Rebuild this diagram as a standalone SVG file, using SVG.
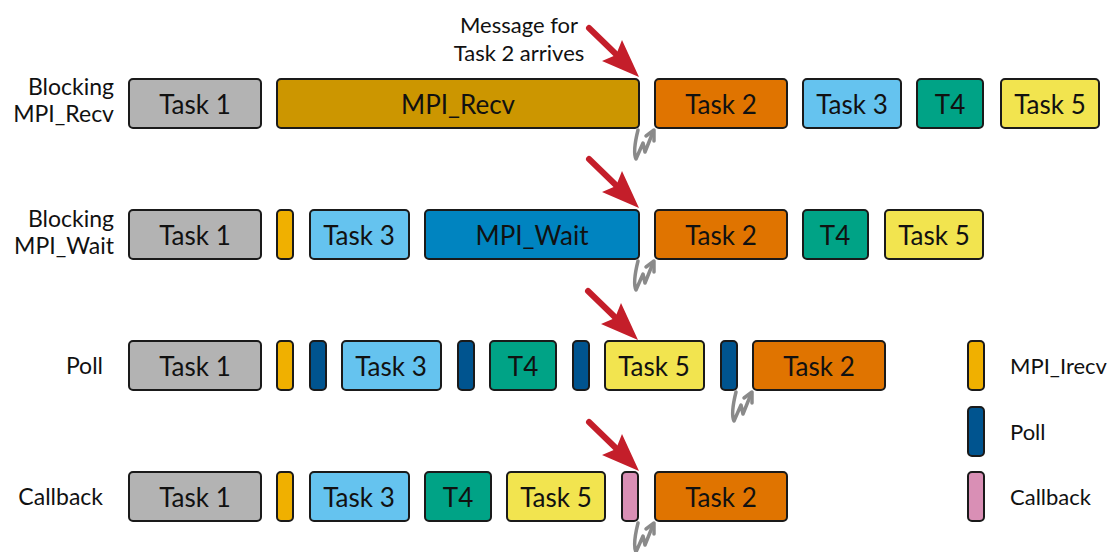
<svg xmlns="http://www.w3.org/2000/svg" width="1115" height="552" viewBox="0 0 1115 552">
<style>
.b{stroke:#1a1a1a;stroke-width:2}
.t{font-family:Lato,"Open Sans","Liberation Sans",sans-serif;font-size:26px;fill:#111;text-anchor:middle;dominant-baseline:central}
.l{font-family:Lato,"Open Sans","Liberation Sans",sans-serif;font-size:23px;fill:#111;text-anchor:end}
.g{font-family:Lato,"Open Sans","Liberation Sans",sans-serif;font-size:22px;fill:#111}
.gray{fill:#b3b3b3}.recv{fill:#cc9600}.t2{fill:#e07400}.t3{fill:#65c3ef}.t4{fill:#00a386}.t5{fill:#f2e44f}.wait{fill:#0084c0}.irecv{fill:#f0b000}.poll{fill:#00548f}.cb{fill:#d98fb5}
.red{fill:#c41e2a}
.sq{fill:none;stroke:#8a8a8a;stroke-width:3.5;stroke-linejoin:round;stroke-linecap:round}
</style>
<defs>
<g id="redarrow">
<line x1="589" y1="28" x2="622" y2="60" stroke="#c41e2a" stroke-width="6" stroke-linecap="round"/>
<polygon class="red" points="639,77 602,61 616,55 622,40"/>
</g>
<g id="squig">
<path class="sq" d="M638,130 C635,142 633,153 636,159 L643,143 L645,152 L653,132"/>
<path class="sq" d="M646,136 L654,130 L654,141"/>
</g>
</defs>

<g id="row-labels">
<text class="l" x="114" y="95">Blocking</text>
<text class="l" x="114" y="122">MPI_Recv</text>
<text class="l" x="114" y="227">Blocking</text>
<text class="l" x="114" y="254">MPI_Wait</text>
<text class="l" x="103" y="374">Poll</text>
<text class="l" x="103" y="505">Callback</text>
</g>

<g id="message-label">
<text class="g" x="519" y="33" text-anchor="middle" font-size="20">Message for</text>
<text class="g" x="519" y="61" text-anchor="middle" font-size="20">Task 2 arrives</text>
</g>

<g id="row1">
<g id="r1-task1"><rect class="b gray" x="129" y="79" width="132" height="49" rx="4"/><text class="t" x="195" y="104">Task 1</text></g>
<g id="r1-recv"><rect class="b recv" x="277" y="79" width="362" height="49" rx="4"/><text class="t" x="458" y="104">MPI_Recv</text></g>
<g id="r1-task2"><rect class="b t2" x="655" y="79" width="132" height="49" rx="4"/><text class="t" x="721" y="104">Task 2</text></g>
<g id="r1-task3"><rect class="b t3" x="803" y="79" width="98" height="49" rx="4"/><text class="t" x="852" y="104">Task 3</text></g>
<g id="r1-t4"><rect class="b t4" x="917" y="79" width="66" height="49" rx="4"/><text class="t" x="950" y="104">T4</text></g>
<g id="r1-task5"><rect class="b t5" x="1001" y="79" width="98" height="49" rx="4"/><text class="t" x="1050" y="104">Task 5</text></g>
</g>

<g id="row2">
<g id="r2-task1"><rect class="b gray" x="129" y="210" width="132" height="49" rx="4"/><text class="t" x="195" y="235">Task 1</text></g>
<g id="r2-irecv"><rect class="b irecv" x="277" y="210" width="16" height="49" rx="4"/></g>
<g id="r2-task3"><rect class="b t3" x="310" y="210" width="99" height="49" rx="4"/><text class="t" x="359" y="235">Task 3</text></g>
<g id="r2-wait"><rect class="b wait" x="425" y="210" width="214" height="49" rx="4"/><text class="t" x="532" y="235">MPI_Wait</text></g>
<g id="r2-task2"><rect class="b t2" x="655" y="210" width="132" height="49" rx="4"/><text class="t" x="721" y="235">Task 2</text></g>
<g id="r2-t4"><rect class="b t4" x="803" y="210" width="65" height="49" rx="4"/><text class="t" x="835" y="235">T4</text></g>
<g id="r2-task5"><rect class="b t5" x="885" y="210" width="98" height="49" rx="4"/><text class="t" x="934" y="235">Task 5</text></g>
</g>

<g id="row3">
<g id="r3-task1"><rect class="b gray" x="129" y="341" width="132" height="49" rx="4"/><text class="t" x="195" y="366">Task 1</text></g>
<g id="r3-irecv"><rect class="b irecv" x="277" y="341" width="16" height="49" rx="4"/></g>
<g id="r3-poll1"><rect class="b poll" x="310" y="341" width="16" height="49" rx="4"/></g>
<g id="r3-task3"><rect class="b t3" x="342" y="341" width="99" height="49" rx="4"/><text class="t" x="391" y="366">Task 3</text></g>
<g id="r3-poll2"><rect class="b poll" x="458" y="341" width="16" height="49" rx="4"/></g>
<g id="r3-t4"><rect class="b t4" x="490" y="341" width="66" height="49" rx="4"/><text class="t" x="523" y="366">T4</text></g>
<g id="r3-poll3"><rect class="b poll" x="573" y="341" width="16" height="49" rx="4"/></g>
<g id="r3-task5"><rect class="b t5" x="605" y="341" width="99" height="49" rx="4"/><text class="t" x="654" y="366">Task 5</text></g>
<g id="r3-poll4"><rect class="b poll" x="721" y="341" width="16" height="49" rx="4"/></g>
<g id="r3-task2"><rect class="b t2" x="753" y="341" width="132" height="49" rx="4"/><text class="t" x="819" y="366">Task 2</text></g>
</g>

<g id="row4">
<g id="r4-task1"><rect class="b gray" x="129" y="472" width="132" height="49" rx="4"/><text class="t" x="195" y="497">Task 1</text></g>
<g id="r4-irecv"><rect class="b irecv" x="277" y="472" width="16" height="49" rx="4"/></g>
<g id="r4-task3"><rect class="b t3" x="310" y="472" width="99" height="49" rx="4"/><text class="t" x="359" y="497">Task 3</text></g>
<g id="r4-t4"><rect class="b t4" x="425" y="472" width="66" height="49" rx="4"/><text class="t" x="458" y="497">T4</text></g>
<g id="r4-task5"><rect class="b t5" x="507" y="472" width="98" height="49" rx="4"/><text class="t" x="556" y="497">Task 5</text></g>
<g id="r4-cb"><rect class="b cb" x="622" y="472" width="16" height="49" rx="4"/></g>
<g id="r4-task2"><rect class="b t2" x="655" y="472" width="132" height="49" rx="4"/><text class="t" x="721" y="497">Task 2</text></g>
</g>

<g id="legend">
<g id="lg-irecv"><rect class="b irecv" x="968" y="341" width="16" height="49" rx="4"/><text class="g" x="1010" y="374">MPI_Irecv</text></g>
<g id="lg-poll"><rect class="b poll" x="968" y="407" width="16" height="49" rx="4"/><text class="g" x="1010" y="440">Poll</text></g>
<g id="lg-cb"><rect class="b cb" x="968" y="472" width="16" height="49" rx="4"/><text class="g" x="1010" y="505">Callback</text></g>
</g>

<g id="connectors">
<use href="#redarrow"/>
<use href="#redarrow" transform="translate(0,131)"/>
<use href="#redarrow" transform="translate(-1,263)"/>
<use href="#redarrow" transform="translate(0,394)"/>
<use href="#squig"/>
<use href="#squig" transform="translate(0,131)"/>
<use href="#squig" transform="translate(98,262)"/>
<use href="#squig" transform="translate(0,393)"/>
</g>
</svg>
